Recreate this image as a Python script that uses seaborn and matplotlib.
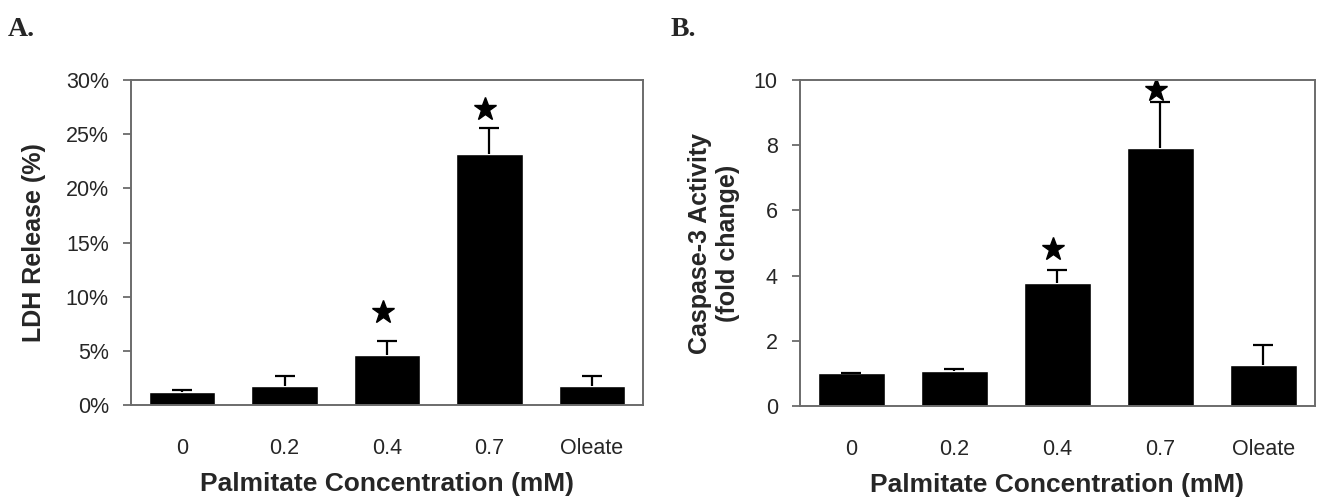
import numpy as np
import pandas as pd
import matplotlib
matplotlib.use("Agg")
import matplotlib.pyplot as plt
import seaborn as sns

# -------------------- Data --------------------
categories = ["0", "0.2", "0.4", "0.7", "Oleate"]

ldh_mean = [1.2, 1.8, 4.6, 23.2, 1.8]      # %
ldh_err = [0.2, 0.85, 1.3, 2.4, 0.85]
ldh_star_idx = [2, 3]
ldh_star_y = [8.6, 27.3]

casp_mean = [1.0, 1.07, 3.76, 7.9, 1.26]   # fold change
casp_err = [0.0, 0.08, 0.4, 1.43, 0.6]
casp_star_idx = [2, 3]
casp_star_y = [4.83, 9.69]

# -------------------- Style --------------------
sns.set_style("ticks")
plt.rcParams["font.family"] = ["Liberation Sans", "DejaVu Sans"]
SPINE = "#6b6b6b"


def draw_panel(ax, means, errs, star_idx, star_y, ylim, yticks, yticklabels,
               ylabel, ylabelpad):
    df = pd.DataFrame({"cat": categories, "val": means})
    sns.barplot(data=df, x="cat", y="val", color="black", saturation=1,
                width=0.65, ax=ax)
    x = np.arange(len(categories))
    # upper error bars only
    _, caps, _ = ax.errorbar(x, means, yerr=[np.zeros(len(errs)), errs], fmt="none",
                             ecolor="black", elinewidth=1.6, capsize=7.5, capthick=1.6)
    caps[0].set_visible(False)
    ax.plot(np.array(star_idx) - 0.04, star_y, linestyle="none", marker="*",
            markersize=17, color="black")

    ax.set_xlim(-0.5, len(categories) - 0.5)
    ax.set_ylim(*ylim)
    ax.set_yticks(yticks)
    ax.set_yticklabels(yticklabels)
    ax.tick_params(axis="y", length=6, width=1.3, color=SPINE, pad=10, labelsize=15.5)
    ax.tick_params(axis="x", length=0, pad=24, labelsize=15.5)
    for s in ax.spines.values():
        s.set_visible(True)
        s.set_color(SPINE)
        s.set_linewidth(1.4)
    ax.set_xlabel("Palmitate Concentration (mM)", fontsize=19, fontweight="bold",
                  labelpad=9)
    ax.set_ylabel(ylabel, fontsize=18, fontweight="bold", labelpad=ylabelpad)


fig = plt.figure(figsize=(13.26, 5.04), dpi=100)
ax_a = fig.add_axes([0.0988, 0.1964, 0.3861, 0.6448])
ax_b = fig.add_axes([0.6033, 0.1944, 0.3884, 0.6468])

draw_panel(ax_a, ldh_mean, ldh_err, ldh_star_idx, ldh_star_y, (0, 30),
           [0, 5, 10, 15, 20, 25, 30],
           ["0%", "5%", "10%", "15%", "20%", "25%", "30%"],
           "LDH Release (%)", 14)
draw_panel(ax_b, casp_mean, casp_err, casp_star_idx, casp_star_y, (0, 10),
           [0, 2, 4, 6, 8, 10],
           ["0", "2", "4", "6", "8", "10"],
           "Caspase-3 Activity\n(fold change)", 10)

fig.text(0.006, 0.929, "A.", fontsize=20, fontweight="bold",
         family=["Liberation Serif", "DejaVu Serif"])
fig.text(0.506, 0.929, "B.", fontsize=20, fontweight="bold",
         family=["Liberation Serif", "DejaVu Serif"])

fig.savefig("out.png", dpi=100)
plt.close(fig)
